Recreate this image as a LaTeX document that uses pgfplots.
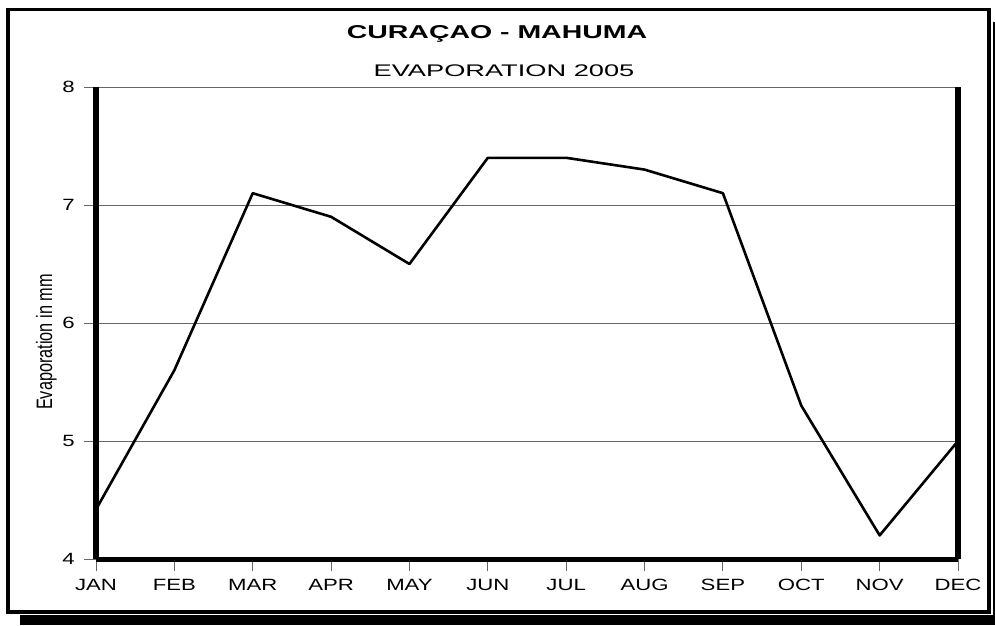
\documentclass[border=0pt]{standalone}
\usepackage{fontspec}
\setmainfont{Liberation Sans}
\newfontfamily\titlefont[FakeStretch=1.53]{Liberation Sans Bold}
\newfontfamily\subfont[FakeStretch=1.62]{Liberation Sans}
\newfontfamily\tickfont[FakeStretch=1.36]{Liberation Sans}
\newfontfamily\ylabfont[FakeStretch=0.73]{Liberation Sans}
\usepackage{pgfplots}
\pgfplotsset{compat=1.18}
\begin{document}
\begin{tikzpicture}
\path[use as bounding box] (0,0) rectangle (995pt,625pt);
\fill[black] (20pt,0) rectangle (995pt,10pt);
\fill[black] (992.5pt,0) rectangle (995pt,603pt);
\draw[line width=3.5pt] (8pt,13pt) rectangle (989pt,615.5pt);
\node[anchor=base, inner sep=0pt, font=\titlefont\fontsize{18.6}{20}\selectfont] at (497pt,586pt) {CURAÇAO - MAHUMA};
\node[anchor=base, inner sep=0pt, font=\subfont\fontsize{16.8}{19}\selectfont] at (504pt,548pt) {EVAPORATION 2005};
\node[anchor=base, rotate=90, inner sep=0pt, font=\ylabfont\fontsize{22.3}{24}\selectfont] at (52pt,283pt) {Evaporation in mm};
\begin{axis}[
  at={(96pt,66pt)}, anchor=south west,
  scale only axis, width=862pt, height=472pt,
  xmin=0, xmax=11, ymin=4, ymax=8,
  xtick={0,...,11},
  xticklabels={JAN,FEB,MAR,APR,MAY,JUN,JUL,AUG,SEP,OCT,NOV,DEC},
  ytick={4,5,6,7,8},
  yticklabels={4,5,6,7,8},
  ymajorgrids,
  grid style={black!60, line width=1pt},
  separate axis lines,
  axis x line*=bottom,
  axis y line*=box,
  x axis line style={-, line width=5pt},
  y axis line style={-, line width=6pt},
  xtick pos=bottom, ytick pos=left,
  tick align=outside,
  major tick length=12pt,
  tick style={black!60, line width=1pt},
  xticklabel style={font=\tickfont\fontsize{16.3}{18}\selectfont, anchor=base, inner sep=0pt, yshift=-19pt},
  yticklabel style={font=\tickfont\fontsize{16.3}{18}\selectfont, anchor=east, inner sep=0pt, xshift=-9pt},
  clip=false,
]
\addplot[black, line width=2.6pt, line join=round] coordinates {
  (0,4.42) (1,5.6) (2,7.1) (3,6.9) (4,6.5) (5,7.4) (6,7.4) (7,7.3) (8,7.1) (9,5.3) (10,4.2) (11,5.0)
};
\end{axis}
\end{tikzpicture}
\end{document}
